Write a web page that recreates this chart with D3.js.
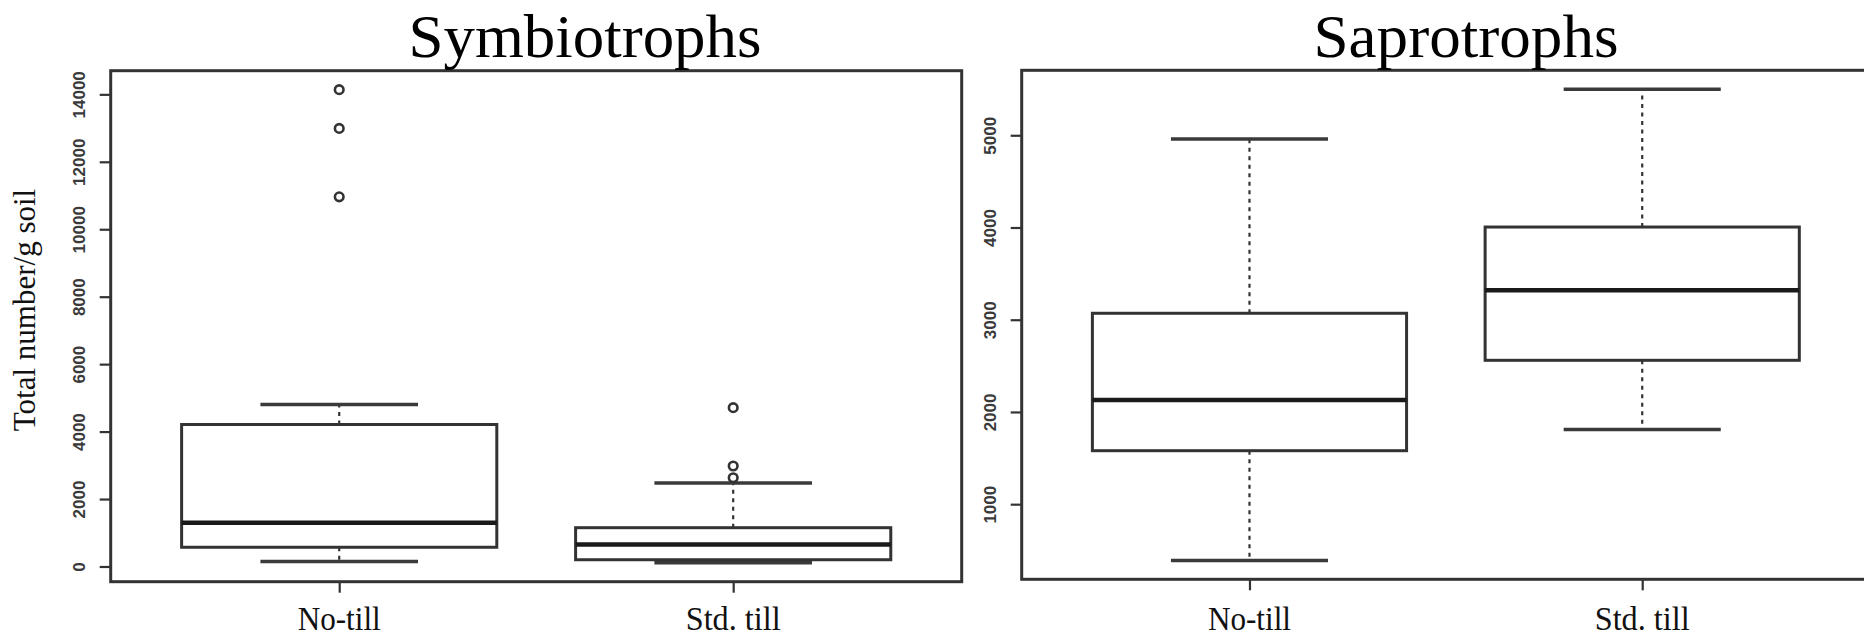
<!DOCTYPE html>
<html>
<head>
<meta charset="utf-8">
<script src="https://cdn.jsdelivr.net/npm/d3@7/dist/d3.min.js"></script>
<style>
  html, body { margin: 0; padding: 0; background: #fff; }
  svg { display: block; }
</style>
</head>
<body>
<svg width="1864" height="638"></svg>
<script>
var svg = d3.select("svg");

var groups = ["No-till", "Std. till"];

// Symbiotrophs: whisker low, Q1, median, Q3, whisker high, outliers
var symLow = [150, 110];
var symQ1 = [570, 200];
var symMedian = [1300, 650];
var symQ3 = [4210, 1150];
var symHigh = [4800, 2475];
var symOut = [[10960, 12990, 14140], [2630, 2980, 4710]];
var symTicks = [0, 2000, 4000, 6000, 8000, 10000, 12000, 14000];

// Saprotrophs
var sapLow = [390, 1810];
var sapQ1 = [1580, 2560];
var sapMedian = [2130, 3320];
var sapQ3 = [3070, 4005];
var sapHigh = [4960, 5500];
var sapOut = [[], []];
var sapTicks = [1000, 2000, 3000, 4000, 5000];

var LineColor = "#333";
var SerifFont = "'Liberation Serif', 'Times New Roman', serif";

drawPanel({
    title: "Symbiotrophs", titleX: 585, titleLen: 353,
    x0: 110.7, x1: 961.7, y0: 70.7, y1: 581.7,
    low: symLow, q1: symQ1, med: symMedian, q3: symQ3, high: symHigh, out: symOut,
    ticks: symTicks
});

drawPanel({
    title: "Saprotrophs", titleX: 1466, titleLen: 305,
    x0: 1021.7, x1: 1870, y0: 70.3, y1: 579.3,
    low: sapLow, q1: sapQ1, med: sapMedian, q3: sapQ3, high: sapHigh, out: sapOut,
    ticks: sapTicks
});

// y axis title
svg.append("text")
    .attr("transform", "translate(35,310) rotate(-90)")
    .attr("text-anchor", "middle")
    .attr("font-family", SerifFont)
    .attr("font-size", 31)
    .attr("fill", "#111")
    .text("Total number/g soil");

function drawPanel(p) {
    var n = groups.length;
    var idx = d3.range(n);

    // R style ranges: 4% padding on both axes
    var all = d3.merge([p.low, p.high, d3.merge(p.out)]);
    var ext = d3.extent(all);
    var pad = (ext[1] - ext[0]) * 0.04;
    var y = d3.scaleLinear().domain([ext[0] - pad, ext[1] + pad]).range([p.y1, p.y0]);
    var x = d3.scaleLinear().domain([0.5 - 0.08, n + 0.5 + 0.08]).range([p.x0, p.x1]);

    var boxW = x(0.8) - x(0);
    var capW = boxW / 2;

    var g = svg.append("g");

    // y axis
    var yAxis = g.append("g")
        .attr("transform", "translate(" + p.x0 + ",0)")
        .call(d3.axisLeft(y).tickValues(p.ticks).tickSize(11).tickFormat(d3.format("d")));
    yAxis.select(".domain").remove();
    yAxis.selectAll(".tick line").attr("stroke", LineColor).attr("stroke-width", 2.2);
    yAxis.selectAll(".tick text")
        .attr("transform", "rotate(-90)")
        .attr("x", 0)
        .attr("y", -32)
        .attr("dy", "0.35em")
        .attr("text-anchor", "middle")
        .attr("font-family", "'Liberation Sans', Arial, sans-serif")
        .attr("font-weight", "bold")
        .attr("font-size", 17)
        .attr("fill", "#3a3a3a");

    // x axis
    var xAxis = g.append("g")
        .attr("transform", "translate(0," + p.y1 + ")")
        .call(d3.axisBottom(x).tickValues(idx.map(function (i) { return i + 1; })).tickSize(11).tickFormat(""));
    xAxis.select(".domain").remove();
    xAxis.selectAll(".tick line").attr("stroke", LineColor).attr("stroke-width", 2.2);

    g.selectAll(".xlab")
        .data(idx)
        .enter().append("text")
        .attr("class", "xlab")
        .attr("x", function (i) { return x(i + 1); })
        .attr("y", 630)
        .attr("text-anchor", "middle")
        .attr("font-family", SerifFont)
        .attr("font-size", 34)
        .attr("textLength", function (i) { return i === 0 ? 83 : 95; })
        .attr("lengthAdjust", "spacingAndGlyphs")
        .attr("fill", "#111")
        .text(function (i) { return groups[i]; });

    // whiskers
    var wh = g.append("g")
        .attr("stroke", LineColor)
        .attr("stroke-width", 2.2)
        .attr("stroke-dasharray", "4,4.5");
    wh.selectAll(".wup")
        .data(idx)
        .enter().append("line")
        .attr("x1", function (i) { return x(i + 1); })
        .attr("x2", function (i) { return x(i + 1); })
        .attr("y1", function (i) { return y(p.q3[i]); })
        .attr("y2", function (i) { return y(p.high[i]); });
    wh.selectAll(".wdn")
        .data(idx)
        .enter().append("line")
        .attr("x1", function (i) { return x(i + 1); })
        .attr("x2", function (i) { return x(i + 1); })
        .attr("y1", function (i) { return y(p.q1[i]); })
        .attr("y2", function (i) { return y(p.low[i]); });

    // staples
    var caps = g.append("g").attr("stroke", "#3a3a3a").attr("stroke-width", 3.5);
    [p.high, p.low].forEach(function (vals) {
        caps.selectAll(null)
            .data(idx)
            .enter().append("line")
            .attr("x1", function (i) { return x(i + 1) - capW / 2; })
            .attr("x2", function (i) { return x(i + 1) + capW / 2; })
            .attr("y1", function (i) { return y(vals[i]); })
            .attr("y2", function (i) { return y(vals[i]); });
    });

    // boxes
    g.selectAll(".box")
        .data(idx)
        .enter().append("rect")
        .attr("class", "box")
        .attr("x", function (i) { return x(i + 1) - boxW / 2; })
        .attr("width", boxW)
        .attr("y", function (i) { return y(p.q3[i]); })
        .attr("height", function (i) { return y(p.q1[i]) - y(p.q3[i]); })
        .attr("fill", "#fff")
        .attr("stroke", LineColor)
        .attr("stroke-width", 3);

    g.selectAll(".med")
        .data(idx)
        .enter().append("line")
        .attr("class", "med")
        .attr("x1", function (i) { return x(i + 1) - boxW / 2; })
        .attr("x2", function (i) { return x(i + 1) + boxW / 2; })
        .attr("y1", function (i) { return y(p.med[i]); })
        .attr("y2", function (i) { return y(p.med[i]); })
        .attr("stroke", "#1a1a1a")
        .attr("stroke-width", 4.5);

    // outliers
    var pts = [];
    idx.forEach(function (i) {
        p.out[i].forEach(function (v) { pts.push({ i: i, v: v }); });
    });
    g.selectAll(".out")
        .data(pts)
        .enter().append("circle")
        .attr("class", "out")
        .attr("cx", function (d) { return x(d.i + 1); })
        .attr("cy", function (d) { return y(d.v); })
        .attr("r", 4.3)
        .attr("fill", "none")
        .attr("stroke", LineColor)
        .attr("stroke-width", 2.6);

    // frame
    g.append("rect")
        .attr("x", p.x0)
        .attr("y", p.y0)
        .attr("width", p.x1 - p.x0)
        .attr("height", p.y1 - p.y0)
        .attr("fill", "none")
        .attr("stroke", LineColor)
        .attr("stroke-width", 3);

    // title
    svg.append("text")
        .attr("x", p.titleX)
        .attr("y", 57)
        .attr("text-anchor", "middle")
        .attr("font-family", SerifFont)
        .attr("font-size", 62)
        .attr("textLength", p.titleLen)
        .attr("lengthAdjust", "spacingAndGlyphs")
        .attr("fill", "#000")
        .text(p.title);
}
</script>
</body>
</html>
